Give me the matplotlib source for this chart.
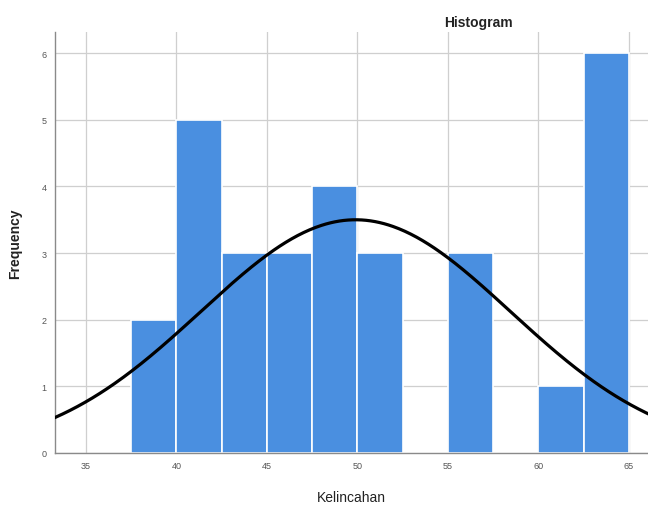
import numpy as np
import matplotlib.pyplot as plt

plt.rcParams['font.family'] = ['Liberation Sans', 'DejaVu Sans']

# bin edges and counts of the Kelincahan scores
bin_edges = [37.5, 40, 42.5, 45, 47.5, 50, 52.5, 55, 57.5, 60, 62.5, 65]
counts = [2, 5, 3, 3, 4, 3, 0, 3, 0, 1, 6]

# normal curve parameters
mean = 49.9
std_dev = 8.55
n_total = sum(counts)
bin_width = 2.5

x_ticks = [35, 40, 45, 50, 55, 60, 65]
y_ticks = [0, 1, 2, 3, 4, 5, 6]

fig = plt.figure(figsize=(6.48, 5.06), dpi=100)
ax = fig.add_axes([0.085, 0.103, 0.915, 0.832])

lefts = np.array(bin_edges[:-1])
ax.bar(lefts, counts, width=bin_width, align='edge', color='#4a8fe0',
       edgecolor='white', linewidth=1.2, zorder=2)

xs = np.linspace(33.3, 66.1, 400)
curve = n_total * bin_width / (std_dev * np.sqrt(2 * np.pi)) * np.exp(-0.5 * ((xs - mean) / std_dev) ** 2)
ax.plot(xs, curve, color='black', linewidth=2.3, zorder=3)

ax.set_xlim(33.3, 66.05)
ax.set_ylim(0, 6.32)
ax.set_xticks(x_ticks)
ax.set_yticks(y_ticks)
ax.grid(True, color='#cfcfcf', linewidth=0.9, zorder=0)
ax.set_axisbelow(True)

for side in ['top', 'right']:
    ax.spines[side].set_visible(False)
for side in ['left', 'bottom']:
    ax.spines[side].set_color('#8a8a8a')
    ax.spines[side].set_linewidth(1.0)

ax.tick_params(axis='both', labelsize=6.5, colors='#555555', length=0, pad=6)

ax.set_xlabel('Kelincahan', fontsize=10, color='#222222', labelpad=14)
ax.set_ylabel('Frequency', fontsize=10, color='#222222', fontweight='bold', labelpad=14)
fig.text(0.738, 0.955, 'Histogram', fontsize=10, fontweight='bold', ha='center', va='center', color='#222222')

fig.savefig('out.png', dpi=100)
